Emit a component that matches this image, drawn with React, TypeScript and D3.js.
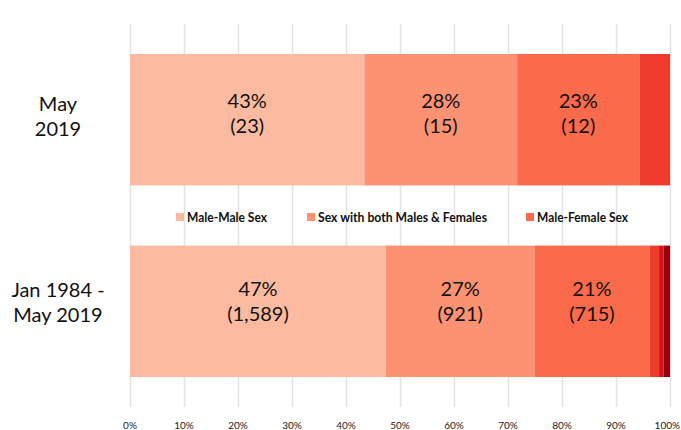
import React, { useEffect, useRef } from 'react';
import * as d3 from 'd3';

const W = 681;
const H = 430;

// data
const periods = ['May 2019', 'Jan 1984 - May 2019'];
const periodLines = [['May', '2019'], ['Jan 1984 -', 'May 2019']];
const categories = ['Male-Male Sex', 'Sex with both Males & Females', 'Male-Female Sex', 'Other 1', 'Other 2', 'Other 3'];
const legendShown = ['Male-Male Sex', 'Sex with both Males & Females', 'Male-Female Sex'];
const countsMay2019 = [23, 15, 12, 3, 0, 0];
const countsAllTime = [1589, 921, 715, 59, 28, 40];
const colors = ['#fcbba1', '#fc9272', '#fb6a4a', '#ef3b2c', '#cb181d', '#99000d'];
const ticks = [0, 0.1, 0.2, 0.3, 0.4, 0.5, 0.6, 0.7, 0.8, 0.9, 1];

const FONT = 'Lato, "Open Sans", sans-serif';

export default function App() {
  const svgRef = useRef<SVGSVGElement>(null);

  useEffect(() => {
    const svg = d3.select(svgRef.current);
    svg.selectAll('*').remove();

    const x = d3.scaleLinear().domain([0, 1]).range([130, 670]);
    const y = d3.scaleBand().domain(periods).range([54, 377]).paddingInner(0.314).paddingOuter(0);

    // grid
    svg.append('g').selectAll('line').data(ticks).join('line')
      .attr('x1', d => x(d) + 0.5).attr('x2', d => x(d) + 0.5)
      .attr('y1', 24).attr('y2', 407)
      .attr('stroke', '#e3e3e3').attr('stroke-width', 1.5);

    // tick labels
    svg.append('g').selectAll('text').data(ticks).join('text')
      .attr('x', d => (d === 1 ? 680 : x(d))).attr('y', 429)
      .attr('text-anchor', d => (d === 1 ? 'end' : 'middle'))
      .style('font-family', FONT).style('font-size', '10px').attr('fill', '#222')
      .text(d => d3.format('.0%')(d));

    const series = [countsMay2019, countsAllTime];
    const valueOffset = [-12, -15];
    const labelOffset = [-9, -14];
    series.forEach((counts, i) => {
      const total = d3.sum(counts);
      let acc = 0;
      const segs = counts.map((c, k) => {
        const s = { k, c, x0: acc / total, x1: (acc + c) / total };
        acc += c;
        return s;
      }).filter(s => s.c > 0);
      const band = y(periods[i])!;
      const bh = y.bandwidth();
      const g = svg.append('g');
      g.selectAll('rect').data(segs).join('rect')
        .attr('x', s => x(s.x0)).attr('width', s => x(s.x1) - x(s.x0))
        .attr('y', band).attr('height', bh)
        .attr('fill', s => colors[s.k]);
      const labelled = segs.filter(s => s.k < 3);
      const cy = band + bh / 2;
      g.selectAll('text.p').data(labelled).join('text')
        .attr('x', s => (x(s.x0) + x(s.x1)) / 2).attr('y', cy + valueOffset[i])
        .attr('text-anchor', 'middle')
        .style('font-family', FONT).style('font-size', '20px').attr('fill', '#111')
        .text(s => d3.format('.0%')(s.c / total));
      g.selectAll('text.c').data(labelled).join('text')
        .attr('x', s => (x(s.x0) + x(s.x1)) / 2).attr('y', cy + valueOffset[i] + 25)
        .attr('text-anchor', 'middle')
        .style('font-family', FONT).style('font-size', '20px').attr('fill', '#111')
        .text(s => `(${d3.format(',')(s.c)})`);
      // category label
      periodLines[i].forEach((ln, j) => {
        svg.append('text')
          .attr('x', 58).attr('y', cy + labelOffset[i] + j * 25)
          .attr('text-anchor', 'middle')
          .style('font-family', FONT).style('font-size', '20px').attr('fill', '#111')
          .text(ln);
      });
    });

    // legend
    const legX = [176, 307, 526];
    const legW = [80, 169, 91];
    const lg = svg.append('g');
    legendShown.forEach((name, i) => {
      lg.append('rect').attr('x', legX[i]).attr('y', 213).attr('width', 8).attr('height', 8)
        .attr('fill', colors[categories.indexOf(name)]);
      lg.append('text').attr('x', legX[i] + 11).attr('y', 222)
        .style('font-family', FONT).style('font-size', '13px').style('font-weight', 'bold')
        .attr('fill', '#111')
        .attr('textLength', legW[i]).attr('lengthAdjust', 'spacingAndGlyphs')
        .text(name);
    });
  }, []);

  return (
    <svg ref={svgRef} width={W} height={H}
      style={{ position: 'absolute', left: 0, top: 0, background: '#fff' }} />
  );
}
